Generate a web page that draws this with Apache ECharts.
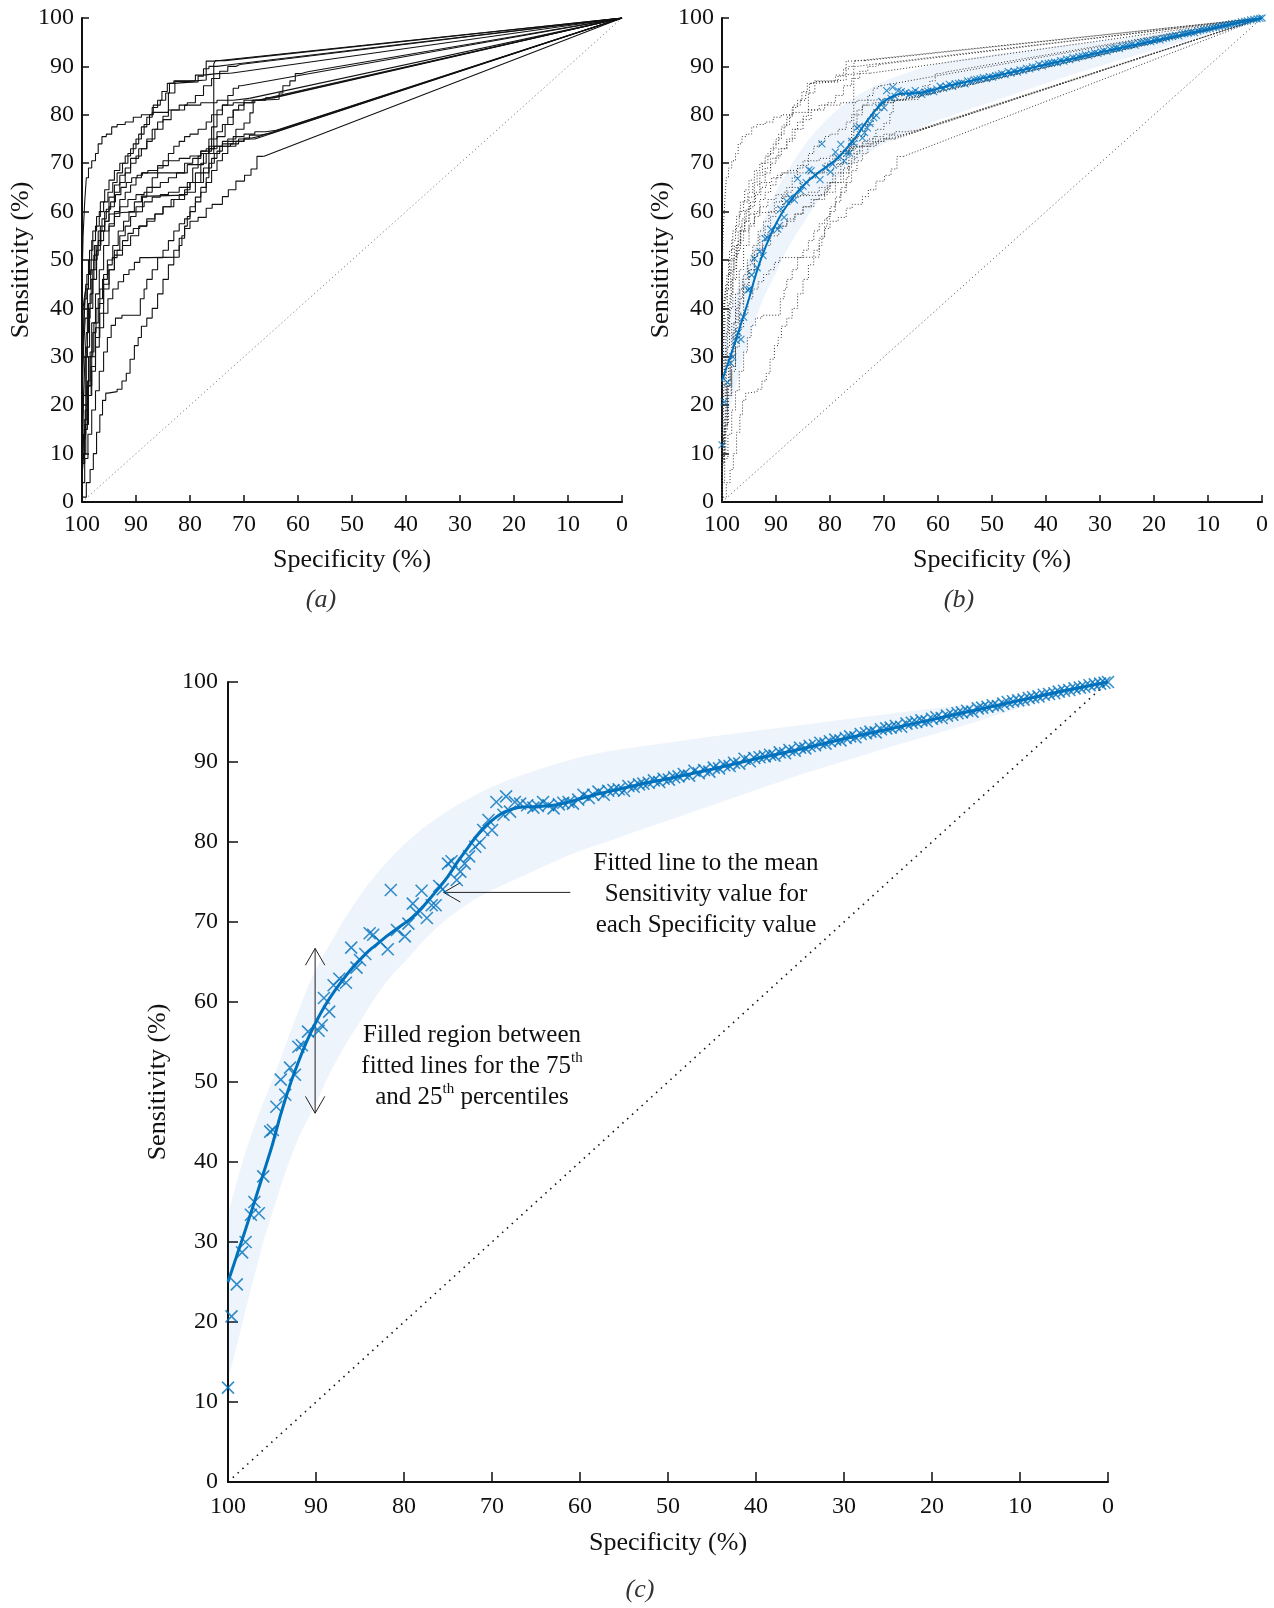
<!DOCTYPE html>
<html>
<head>
<meta charset="utf-8">
<script src="https://cdn.jsdelivr.net/npm/echarts@6/dist/echarts.min.js"></script>
<style>
html,body{margin:0;padding:0;background:#fff;}
#roc{width:1274px;height:1608px;}
</style>
</head>
<body>
<div id="roc"></div>
<script>
// individual ROC curves, [specificity %, sensitivity %]
var curve01=[[100,0],[100,30],[99.8,45],[99.5,55],[99.2,62],[98.8,67],[98.2,69],[97.5,70.5],[97,72],[96.3,74],[95.5,75.5],[94.5,76],[93.5,77.5],[92,78],[90.5,78.5],[89,79.5],[87,80],[84,80.5],[81,81],[78,82],[75,82.5],[72,83],[69,83.4]];
var curve02=[[100,0],[99.7,10],[99.2,22],[98.6,32],[98,40],[97.3,46],[96.6,52],[95.8,56],[95,58],[94,61],[93,64],[92,66],[91,68],[90,70],[89,71.5],[88,73],[87,74.5],[86,77],[85,78.5],[84,79.7],[82.8,84.5],[80.4,86.9],[77,87.2],[75.4,91.1]];
var curve03=[[100,0],[99.5,8],[99,16],[98.2,24],[97.5,30],[96.8,36],[96,41],[95,45],[94,48],[92.5,51],[91,53],[89.5,55],[88,57],[86.5,58.5],[85,59.5],[83,61],[81,62.5],[79,64],[77.5,66],[76.5,69],[75.6,72],[75.3,90.5],[73.5,91.2]];
var curve04=[[100,0],[99.8,12],[99.4,22],[99,30],[98.5,38],[98,43],[97.4,48],[96.6,53],[95.8,57],[95,60],[94,63],[93,65.5],[92,67.5],[91,69],[89.5,71],[88,73],[86.5,75],[85,77],[83.5,79],[82,81],[80.5,82],[79,82.5],[77.5,84],[76,86],[74.5,87.5],[73,89],[71.5,90],[70.8,90.4]];
var curve05=[[100,0],[99.9,18],[99.6,30],[99.3,38],[98.8,45],[98.2,50],[97.5,54],[96.8,57],[96,60],[95.2,62],[94.3,64],[93.5,66],[92.5,68],[91.5,70],[90.5,72],[89.5,74],[88.5,76],[87.5,78],[86.8,80],[85.5,82],[84.5,83],[83.8,84.5],[83,86.5],[81.5,87],[79,87],[77.5,88.2],[75,88.5],[72.5,88.6]];
var curve06=[[100,0],[99.7,6],[99.3,14],[98.8,22],[98.2,30],[97.5,37],[96.8,43],[96,48],[95,53],[94,57],[93,60],[92,62.5],[91,64],[90,65.5],[89,67],[88,68],[80.5,68],[80,69.7],[77.5,69.7],[76.5,72],[76,75],[75,77.5],[74,80],[73,82],[72,84],[71,85.5],[70.5,86]];
var curve07=[[100,0],[99.6,8],[99,15],[98.3,22],[97.5,28],[96.7,34],[96,39],[95,44],[94,48],[93,52],[92,55],[91,57],[90,59],[88.5,61],[87,62],[85.5,63],[84,63.5],[82,64],[80,65],[78,66],[76.5,68],[75.5,70],[74.5,72],[73,73.5],[71.5,75],[70,77],[68.9,78.3],[68.3,80.4],[67,83],[63.5,83.2],[62.8,84.5],[61.5,86],[60.5,87],[59.5,88.5],[58.2,88.9]];
var curve08=[[100,0],[99.8,10],[99.5,20],[99.2,28],[98.8,35],[98.3,41],[97.8,46],[97.2,50],[96.5,53],[95.8,56],[95,58],[94,59.5],[92.6,59.8],[88.8,60],[88,63],[87,65],[86,67],[85,69],[84,70.5],[83,72],[82,73.5],[81,74.5],[80,75.5],[78.5,76],[77,77],[76,78.5],[75,80],[74,81],[72,82],[70,82.5],[68,83],[66,83.2]];
var curve09=[[100,0],[99.9,14],[99.7,24],[99.4,32],[99,38],[98.4,44],[97.8,48],[97,51],[96,54],[95,56],[94,57.5],[93,59],[91.5,61],[90,62.5],[88.5,63.5],[87,64],[85.5,65],[84,66],[82.5,67],[81,68],[79.5,70],[78,71],[76.5,72],[75,73],[73.5,75.5],[72,78],[70,81],[68,82.5],[66,83],[64.5,83.5]];
var curve10=[[100,0],[99.6,9],[99.1,17],[98.5,24],[97.8,31],[97,37],[96.2,42],[95.3,46],[94.3,50],[93.3,53],[92.3,56],[91.3,58],[90.3,60],[89,62],[87.5,63.2],[81,63.4],[80,64.5],[79,66],[78,68],[77,70],[76.5,72],[76,73.5],[75,75],[74,76.5],[73,78],[72,79.5],[71,81],[70,82],[68.5,82.5],[67.5,83]];
var curve11=[[100,0],[99.7,5],[99.3,10],[98.8,16],[98.2,22],[97.5,27],[96.8,32],[96,36],[95.2,39],[94.3,42],[93.3,44],[92.3,45.5],[91.3,47],[90.3,48],[89.3,49.5],[87.7,50.5],[82,50.6],[81.5,53],[81,55],[80.5,57],[80,59],[79,61],[78,63],[77,65],[76.5,67],[76,69],[75,71],[74,72.5],[72.5,73.5],[71,74],[69,75],[67,75.8],[65,76.2]];
var curve12=[[100,0],[99.2,1],[98.5,4],[97.9,6.7],[97.3,10],[96.7,14.4],[96.2,18],[95.6,21],[95.2,22.5],[93.5,22.8],[92.6,23.3],[91.8,25],[91.1,26.6],[90.3,29.5],[89.6,32.3],[89,34],[88,36.3],[87,38],[86,40],[85,43],[84,46],[83,49],[82,52],[81,54.5],[80,56.5],[78.5,58],[77,58.8],[75.9,60.7],[74,61.5],[72.9,63.1],[71.5,64.5],[69.9,66.3],[68.7,67.5],[67.6,68.8],[66.4,71.4]];
var curve13=[[100,0],[99.5,4],[98.9,9],[98.2,14],[97.5,19],[96.8,23],[96,27],[95.3,31],[94.6,34],[93.8,36.5],[92.6,38],[89.2,38.6],[88.5,42],[88,44],[87,46],[86,48],[85,50.5],[84,52],[83,54],[82,56],[81,57.5],[80,58.5],[79,60],[78,62],[77,64],[76,66],[75,68.5],[74,70.5],[73,72],[71.5,73.5],[70,74.5],[68.5,75.2],[67,75.6]];
var curve14=[[100,0],[99.8,7],[99.4,13],[99,19],[98.5,25],[98,30],[97.4,35],[96.7,40],[96,44],[95.2,47],[94.4,49],[93.5,50.5],[92.5,52],[91.5,54],[90.5,55.5],[89.3,56.5],[88,57],[86.5,58],[85,59.5],[83.5,61],[82,62.5],[80.5,63.5],[79.5,66],[78.5,69],[78,71.5],[77,72.5],[75.5,73],[74,73.5],[72,74.5],[70,75.5],[68,76],[66,76.5],[64,76.8]];
var curve15=[[100,0],[99.9,20],[99.8,33],[99.6,40],[99.3,42],[98.8,44],[98.3,47],[97.7,50],[97,53],[96.3,56],[95.5,58.5],[94.7,60.5],[93.8,62],[92.8,63.5],[91.8,65],[90.8,66],[89.8,67],[88.8,67.5],[87.8,68],[86,68.5],[84,69.5],[82,70.5],[80,71],[78,71.5],[76,72.5],[74,73.5],[72,74],[70,74.5],[68,75]];
var curve16=[[100,0],[99.9,15],[99.7,28],[99.5,36],[99.1,42],[98.6,47],[98,52],[97.3,56],[96.6,59],[95.8,62],[95,64.5],[94,66.5],[93,68.5],[92,70],[91,71.5],[90,73],[89,75],[88,77.5],[87,79.5],[86,81.5],[85.2,83],[84.2,84.8],[83,86.5],[80.5,86.7],[78.5,86.8],[77.5,88],[76.5,89.5],[75,90],[73,90.3],[71.5,90.5]];
var rocCurves=[curve01,curve02,curve03,curve04,curve05,curve06,curve07,curve08,curve09,curve10,curve11,curve12,curve13,curve14,curve15,curve16];
var rocEnd=[0,100];
var chanceLine=[[100,0],[0,100]];

// fitted mean sensitivity
var meanSpec=[100,99,98,97,96,95,94,93,92,91,90,89,88,87,86,85,84,83,82,81,80,79,78,77,76,75,74,73,72,71,70,69,68,67,66,65,64,63,62,60,58,56,54,52,50,45,40,35,30,25,20,15,10,5,0];
var meanSens=[25,28.3,31.6,35,38.5,42,46,49.5,52.5,55.2,57.5,59.5,61.2,62.7,64.1,65.3,66.4,67.3,68.2,69,69.8,70.6,71.7,73,74.3,75.7,77.4,78.9,80.4,81.7,82.7,83.5,84,84.3,84.4,84.4,84.5,84.6,84.8,85.4,86,86.5,87,87.5,87.9,89.1,90.4,91.6,92.9,94.1,95.3,96.5,97.7,98.9,100];

// fitted 75th / 25th percentile lines
var bandSpec=[100,99,98,97,96,95,94,93,92,91,90,89,88,87,86,85,84,83,82,81,80,78,76,74,72,70,68,66,64,62,60,57,54,50,45,40,35,30,25,20,15,10,5,0];
var bandHigh=[33.6,37.5,41.3,44.5,47.4,50.1,53,56,58.9,61.7,64.2,66.2,68,70,71.7,73.3,74.8,76.2,77.4,78.6,79.7,81.6,83.2,84.6,85.8,86.9,87.8,88.6,89.3,90,90.6,91.3,91.8,92.4,93.2,93.9,94.6,95.3,96,96.7,97.3,97.9,98.9,100];
var bandLow=[12.75,17,21.5,25.8,30,33.5,37,40.2,43,45.2,47.3,49.8,52,54,55.8,57.5,59.3,61,62.5,63.8,64.9,67.4,69.6,71.3,72.8,74,75,76,77,78,78.9,80,81.2,82.7,84.6,86.5,88.4,90.1,91.8,93.4,95,96.8,98.4,100];

// mean sensitivity at each specificity value
var meanPts=[[100,11.8],[99.6,20.7],[99,24.7],[98.4,28.7],[98,30],[97.4,33.4],[97,35],[96.5,33.6],[96,38.2],[95.2,43.8],[94.9,44],[94.5,46.9],[94,50.3],[93.5,48.4],[92.95,51.8],[92.4,50.9],[92,54.4],[91.6,54.6],[90.9,56.3],[89.7,56.4],[89.35,57.1],[89.1,60.5],[88.5,58.8],[88,62.1],[87.35,62.9],[86.6,62.4],[86,66.8],[85.4,64.3],[85,65.25],[84.4,66],[83.9,68.6],[83.5,68.4],[82.7,67.5],[81.85,66.6],[81.5,74],[80.8,69],[79.9,68.2],[79.5,69.8],[79,72.3],[78.6,71.2],[78,73.9],[77.4,70.5],[76.85,72.1],[76.4,72.1],[76,74.5],[75.6,74.1],[75,77.3],[74.6,77.6],[74,75.25],[73.6,76.3],[73.1,77.3],[72.6,78.2],[71.9,79.4],[71.4,79.9],[71,81.5],[70.4,82.75],[70,81.5],[69.5,85],[68.7,83.4],[68.4,85.7],[67.95,83.8],[67.4,85],[66.8,84.8],
[66,84.6],[65.3,84.3],[64.8,84.5],[64.2,85],[63.6,84.6],[63,84.2],[62.4,84.7],[61.9,84.9],[61.3,85],[60.8,84.8],[60.2,85.3],[59.6,85.9],[59,85.5],[58.5,85.9],[57.9,86.3],[57.3,85.9],[56.8,86.4],[56.2,86.5],[55.6,86.6],[55,86.4],[54.5,87],[53.9,86.9],[53.3,87.2],[52.8,87.3],[52.2,87.4],[51.6,87.7],[51,87.5],[50.5,87.9],[49.9,87.8],[49.3,88.1],[48.8,88.2],[48.2,88.5],[47.6,88.3],[47,88.9],[46.5,88.6],[45.9,89],[45.3,88.8],[44.8,89.3],[44.2,89.2],[43.6,89.6],[43,89.5],[42.5,89.9],[41.9,89.8],[41.3,90.4],[40.7,90.1],[40.2,90.5],[39.6,90.6],[39,90.7],[38.4,90.9],[37.9,90.8],[37.3,91.2],[36.7,91.1],[36.2,91.5],[35.6,91.4],[35,91.8],[34.4,91.7],[33.9,92],[33.3,92.1],[32.7,92.4],[32.1,92.3],[31.6,92.6],[31,92.8],[30.4,92.7],[29.8,93],[29.3,93.2],[28.7,93.1],[28.1,93.5],[27.5,93.6],[27,93.8],[26.4,93.7],[25.8,94.1],[25.2,94.2],[24.7,94.3],[24.1,94.5],[23.5,94.4],[22.9,94.8],[22.3,94.9],[21.8,95],[21.2,95.2],[20.6,95.1],[20,95.4],[19.5,95.6],[18.9,95.5],[18.3,95.8],[17.7,95.9],[17.1,96.1],[16.6,96.2],[16,96.4],[15.4,96.3],[14.8,96.7],[14.3,96.8],[13.7,96.9],[13.1,97.1],[12.5,97],[11.9,97.3],[11.4,97.5],[10.8,97.6],[10.2,97.7],[9.6,97.8],[9,98],[8.5,98.1],[7.9,98.2],[7.3,98.4],[6.7,98.5],[6.1,98.6],[5.6,98.8],[5,98.9],[4.4,99],[3.8,99.2],[3.2,99.3],[2.7,99.4],[2.1,99.6],[1.5,99.7],[0.9,99.8],[0.4,99.9],[0,100]];

// annotation arrows in panel (c), data units
var arrowMean=[[75.5,73.7],[61.1,73.7]];
var arrowMeanHead=[[73.6,74.9],[75.5,73.7],[73.6,72.5]];
var arrowBand=[[90.1,66.7],[90.1,46.1]];
var arrowBandTop=[[91.2,64.6],[90.1,66.7],[89,64.6]];
var arrowBandBottom=[[91.2,48.2],[90.1,46.1],[89,48.2]];

var FONT='Liberation Serif';
var BLUE='#0072BD';
var FILL='rgba(40,112,205,0.08)';

function zip(a,b){
	var out=[];
	for(var i=0;i<a.length;i++) out.push([a[i],b[i]]);
	return out;
}

function axisPair(gi,big){
	var lab={fontFamily:FONT,fontSize:24,color:'#111'};
	var x={type:'value',gridIndex:gi,min:0,max:100,interval:10,inverse:true,position:'bottom',
		name:'Specificity (%)',nameLocation:'middle',nameGap:big?48:45,
		nameTextStyle:{fontFamily:FONT,fontSize:26,color:'#111'},
		axisLine:{onZero:false,lineStyle:{color:'#111',width:2}},
		axisTick:{inside:true,length:big?10:7,lineStyle:{color:'#111',width:1.5}},
		axisLabel:Object.assign({margin:big?13:11},lab),splitLine:{show:false}};
	var y={type:'value',gridIndex:gi,min:0,max:100,interval:10,position:'left',
		name:'Sensitivity (%)',nameLocation:'middle',nameGap:big?50:47,
		nameTextStyle:{fontFamily:FONT,fontSize:26,color:'#111'},
		axisLine:{onZero:false,lineStyle:{color:'#111',width:2}},
		axisTick:{inside:true,length:big?10:7,lineStyle:{color:'#111',width:1.5}},
		axisLabel:Object.assign({margin:big?10:8},lab),splitLine:{show:false}};
	return [x,y];
}

var ax0=axisPair(0,false), ax1=axisPair(1,false), ax2=axisPair(2,true);

var series=[];

function addLine(gi,data,style,extra){
	var s={type:'line',xAxisIndex:gi,yAxisIndex:gi,data:data,symbol:'none',silent:true,
		lineStyle:style,z:2};
	if(extra) Object.assign(s,extra);
	series.push(s);
}

function addRoc(gi,style){
	for(var i=0;i<rocCurves.length;i++){
		var c=rocCurves[i];
		addLine(gi,c,style,{step:'start'});
		addLine(gi,[c[c.length-1],rocEnd],style);
	}
}

function addBand(gi){
	series.push({type:'custom',xAxisIndex:gi,yAxisIndex:gi,data:[[50,50]],silent:true,z:1,
		renderItem:function(params,api){
			var pts=[];
			for(var i=0;i<bandSpec.length;i++) pts.push(api.coord([bandSpec[i],bandHigh[i]]));
			for(var j=bandSpec.length-1;j>=0;j--) pts.push(api.coord([bandSpec[j],bandLow[j]]));
			return {type:'polygon',shape:{points:pts},style:{fill:FILL}};
		}});
}

function addMean(gi,w,size,bw){
	addLine(gi,zip(meanSpec,meanSens),{color:BLUE,width:w},{smooth:0.3,z:4});
	series.push({type:'scatter',xAxisIndex:gi,yAxisIndex:gi,data:meanPts,silent:true,z:5,
		symbol:'path://M0,0L10,10M10,0L0,10',symbolSize:size,
		itemStyle:{color:'rgba(0,0,0,0)',borderColor:BLUE,borderWidth:bw}});
}

// (a) individual curves
addLine(0,chanceLine,{color:'#666',width:1,type:[1,3]});
addRoc(0,{color:'#111',width:1.1});

// (b) same curves dotted + fitted lines
addBand(1);
addLine(1,chanceLine,{color:'#444',width:1,type:[1,3]});
addRoc(1,{color:'#333',width:1,type:[1,2]});
addMean(1,2,7,1.1);

// (c) fitted lines only
addBand(2);
addLine(2,chanceLine,{color:'#111',width:1.6,type:[1.5,5]});
addMean(2,3,12,1.6);
var annoStyle={color:'#222',width:1};
addLine(2,arrowMean,annoStyle);
addLine(2,arrowMeanHead,annoStyle);
addLine(2,arrowBand,annoStyle);
addLine(2,arrowBandTop,annoStyle);
addLine(2,arrowBandBottom,annoStyle);

var txt={fontFamily:FONT,fontSize:25,fill:'#111'};

var chart=echarts.init(document.getElementById('roc'),null,{renderer:'canvas'});
chart.setOption({
	animation:false,
	backgroundColor:'#fff',
	grid:[
		{left:82,top:18,width:540,height:484},
		{left:722,top:18,width:540,height:484},
		{left:228,top:682,width:880,height:800}
	],
	xAxis:[ax0[0],ax1[0],ax2[0]],
	yAxis:[ax0[1],ax1[1],ax2[1]],
	series:series,
	graphic:[
		{type:'text',x:321,y:600,style:{text:'(a)',fontFamily:FONT,fontSize:26,fontStyle:'italic',fill:'#333',textAlign:'center',textVerticalAlign:'middle'}},
		{type:'text',x:959,y:600,style:{text:'(b)',fontFamily:FONT,fontSize:26,fontStyle:'italic',fill:'#333',textAlign:'center',textVerticalAlign:'middle'}},
		{type:'text',x:640,y:1590,style:{text:'(c)',fontFamily:FONT,fontSize:26,fontStyle:'italic',fill:'#333',textAlign:'center',textVerticalAlign:'middle'}},
		{type:'text',x:706,y:894,z:10,style:Object.assign({text:'Fitted line to the mean\nSensitivity value for\neach Specificity value',
			textAlign:'center',textVerticalAlign:'middle',lineHeight:31},txt)},
		{type:'text',x:472,y:1066,z:10,style:{
			text:'{n|Filled region between}\n{n|fitted lines for the 75}{s|th}\n{n|and 25}{s|th}{n| percentiles}',
			textAlign:'center',textVerticalAlign:'middle',
			rich:{n:{fontFamily:FONT,fontSize:25,lineHeight:31,fill:'#111'},
				s:{fontFamily:FONT,fontSize:15,lineHeight:31,verticalAlign:'top',fill:'#111'}}}}
	]
});
</script>
</body>
</html>
